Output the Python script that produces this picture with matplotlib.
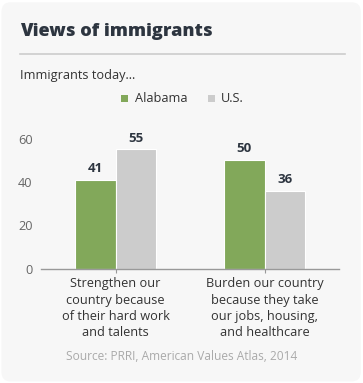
import matplotlib
matplotlib.use("Agg")
import matplotlib.pyplot as plt
from matplotlib.patches import FancyBboxPatch, Rectangle
import numpy as np

plt.rcParams['font.family'] = ['Open Sans', 'DejaVu Sans']

# ----- datos -----
categorias = ["Strengthen our\ncountry because\nof their hard work\nand talents",
              "Burden our country\nbecause they take\nour jobs, housing,\nand healthcare"]
series = ["Alabama", "U.S."]
alabama = [41, 50]
us = [55, 36]
yticks = [0, 20, 40, 60]

col_al = "#82a85a"
col_us = "#cccccc"
dark = "#2d3540"

fig = plt.figure(figsize=(3.63, 3.83), dpi=100)
fig.patch.set_facecolor("white")

# tarjeta de fondo
card = FancyBboxPatch((0.004, 0.004), 0.99, 0.99, boxstyle="round,pad=0,rounding_size=0.025",
                      transform=fig.transFigure, facecolor="#f7f7f7", edgecolor="none", zorder=-10)
fig.patches.append(card)

fig.text(20/363, 1 - 31/383, "Views of immigrants", fontsize=13.1, fontweight="heavy",
         color=dark, va="center", ha="left")
fig.add_artist(plt.Line2D([20/363, 345/363], [1 - 54/383, 1 - 54/383], color="#cccccc", lw=1.2))
fig.text(20/363, 1 - 75/383, "Immigrants today...", fontsize=9.2, color="#333333", va="center")

# leyenda
fig.patches.append(Rectangle((121/363, 1 - 102/383), 7/363, 7/383, transform=fig.transFigure,
                             facecolor=col_al, edgecolor="none"))
fig.text(135/363, 1 - 98/383, series[0], fontsize=9.2, color="#333333", va="center")
fig.patches.append(Rectangle((208/363, 1 - 102/383), 7/363, 7/383, transform=fig.transFigure,
                             facecolor=col_us, edgecolor="none"))
fig.text(221/363, 1 - 98/383, series[1], fontsize=9.2, color="#333333", va="center")

ax = fig.add_axes([41/363, 114/383, 298/363, 130.5/383])
ax.set_facecolor("none")
x = np.arange(len(categorias))
w = 0.275
b1 = ax.bar(x - w/2, alabama, w, color=col_al, edgecolor="white", linewidth=0.8)
b2 = ax.bar(x + w/2, us, w, color=col_us, edgecolor="white", linewidth=0.8)
for bars in (b1, b2):
    for r in bars:
        ax.annotate(f"{r.get_height():.0f}", (r.get_x() + r.get_width()/2, r.get_height()),
                    xytext=(0, 3.5), textcoords="offset points", ha="center", va="bottom",
                    fontsize=9.5, fontweight="bold", color=dark, annotation_clip=False)

ax.set_xlim(-0.5, 1.5)
ax.set_ylim(0, 60)
ax.set_yticks(yticks)
ax.tick_params(axis="y", length=0, labelsize=9.2, labelcolor="#666666", pad=6)
ax.set_xticks(x)
ax.set_xticklabels(categorias, fontsize=9.2, color="#333333", linespacing=1.32)
ax.tick_params(axis="x", length=3, color="#999999", pad=3)
for s in ["top", "right", "left"]:
    ax.spines[s].set_visible(False)
ax.spines["bottom"].set_color("#999999")
ax.spines["bottom"].set_linewidth(1)

fig.text(182/363, 1 - 357/383, "Source: PRRI, American Values Atlas, 2014", fontsize=8.6,
         color="#aaaaaa", ha="center", va="center")

plt.savefig("out.png", dpi=100, facecolor=fig.get_facecolor())
